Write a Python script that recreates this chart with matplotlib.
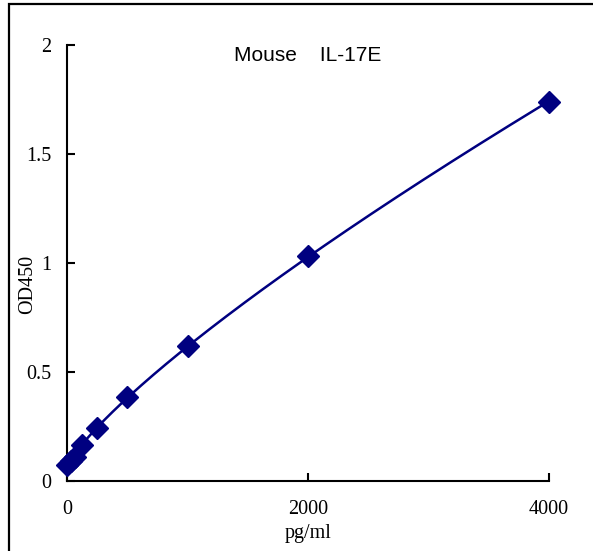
from matplotlib import use
use('Agg')
import matplotlib.pyplot as plt
from matplotlib.patches import Rectangle
import numpy as np

# standard curve readings
conc = [0, 31.25, 62.5, 125, 250, 500, 1000, 2000, 4000]
od450 = [0.075, 0.092, 0.112, 0.167, 0.243, 0.385, 0.619, 1.030, 1.740]
xticks = [0, 2000, 4000]
yticks = [0, 0.5, 1, 1.5, 2]
ytick_labels = ["0", "0.5", "1", "1.5", "2"]

fig = plt.figure(figsize=(5.93, 5.51), dpi=100)
ax = fig.add_axes([67/593, 1 - 481/551, (549 - 67)/593, (481 - 45)/551])

# power trendline y = a + b*x^p, p picked by least squares
cx = np.array(conc)
cy = np.array(od450)
best = None
for p in np.arange(0.5, 1.01, 0.01):
    c = np.polyfit(cx ** p, cy, 1)
    err = np.sum((np.polyval(c, cx ** p) - cy) ** 2)
    if best is None or err < best[0]:
        best = (err, p, c)
_, p, c = best
xs = np.linspace(0, cx.max(), 400)
ax.plot(xs, np.polyval(c, xs ** p), color='#000080', lw=1.8, zorder=2)
ax.plot(conc, od450, 'D', color='#000080', markersize=11, zorder=3, clip_on=False)

ax.set_xlim(0, 4000)
ax.set_ylim(0, 2)
ax.set_xticks(xticks)
ax.set_yticks(yticks)
ax.set_yticklabels(ytick_labels)
for s in ['top', 'right']:
    ax.spines[s].set_visible(False)
for s in ['left', 'bottom']:
    ax.spines[s].set_linewidth(1.5)
ax.tick_params(direction='in', length=6, width=1.5, labelsize=14.5)
ax.tick_params(axis='y', pad=11)
ax.tick_params(axis='x', pad=14)
for lab in ax.get_xticklabels() + ax.get_yticklabels():
    lab.set_family('Liberation Serif')

ax.set_xlabel("pg/ml", family='Liberation Serif', fontsize=14.5, labelpad=3)
ax.set_ylabel("OD450", family='Liberation Serif', fontsize=14.5)
ax.yaxis.set_label_coords(-0.062, 0.45)
ax.text(0.5, 0.975, "Mouse    IL-17E", transform=ax.transAxes, ha='center', va='center',
        family='Liberation Sans', fontsize=15)

# outer frame
fig.add_artist(Rectangle((9/593, -0.05), 1.2, 1.05 - 4/551, transform=fig.transFigure,
                         fill=False, edgecolor='black', lw=1.6, clip_on=False))

fig.savefig("out.png", dpi=100)
